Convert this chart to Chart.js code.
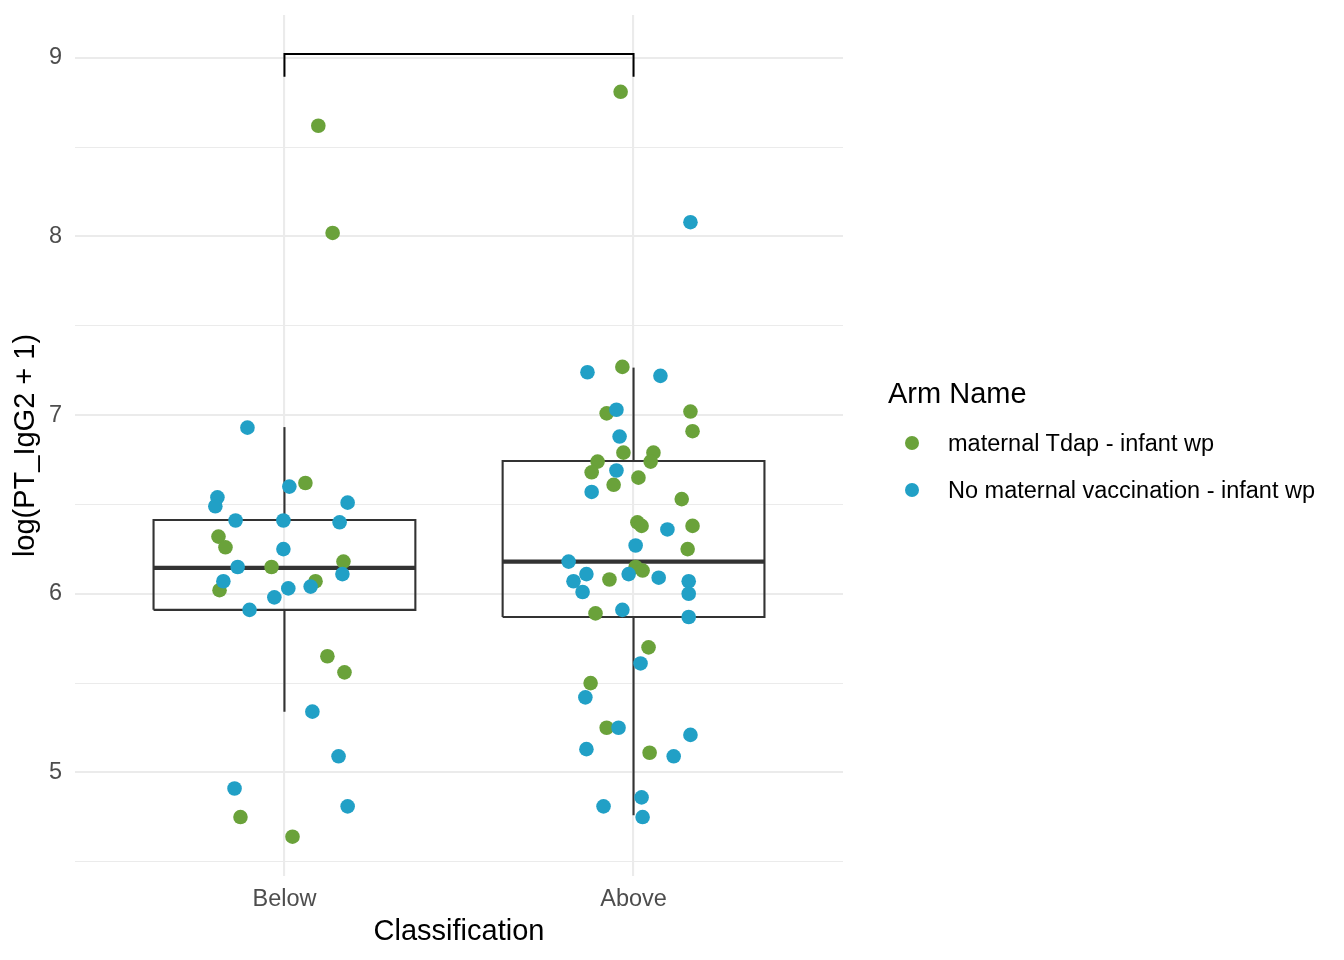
<!DOCTYPE html>
<html><head><meta charset="utf-8">
<script src="https://cdn.jsdelivr.net/npm/chart.js@4.4.1/dist/chart.umd.min.js"></script>
<style>
html,body{margin:0;padding:0;background:#fff;}
#wrap{position:relative;width:1344px;height:960px;font-family:'Liberation Sans',Arial,Helvetica,sans-serif;}
canvas{position:absolute;left:0;top:0;}
.lg-title{position:absolute;left:888px;top:376px;font-size:29px;color:#000;line-height:34px;white-space:nowrap;}
.lg-item{position:absolute;left:948px;font-size:23.5px;line-height:28px;color:#000;white-space:nowrap;}
.lg-dot{position:absolute;width:14.6px;height:14.6px;border-radius:50%;}
</style></head>
<body>
<div id="wrap">
<canvas id="c" width="1344" height="960"></canvas>
<div class="lg-title">Arm Name</div>
<div class="lg-dot" style="left:904.7px;top:435.7px;background:#6aa23a"></div>
<div class="lg-item" style="top:429px">maternal Tdap - infant wp</div>
<div class="lg-dot" style="left:904.7px;top:482.7px;background:#21a0c6"></div>
<div class="lg-item" style="top:476px">No maternal vaccination - infant wp</div>
</div>
<script>
// ---- data ----
const categories = ['Below', 'Above'];
const seriesNames = ['maternal Tdap - infant wp', 'No maternal vaccination - infant wp'];
const yTickValues = [4.5, 5, 5.5, 6, 6.5, 7, 7.5, 8, 8.5, 9];

// box statistics per category
const boxLower  = [5.34, 4.76];
const boxQ1     = [5.91, 5.87];
const boxMedian = [6.145, 6.18];
const boxQ3     = [6.413, 6.743];
const boxUpper  = [6.933, 7.266];

// significance bracket
const bracketTop = 9.022;
const bracketLeg = 8.894;

// jittered points: horizontal jitter (category units) and values
const belowTdapJitter = [0.097,0.138,0.060,-0.189,-0.169,-0.037,0.169,-0.186,0.089,0.123,0.172,-0.126,0.023];
const belowTdapValue  = [8.62,8.02,6.62,6.32,6.26,6.15,6.18,6.02,6.07,5.65,5.56,4.75,4.64];
const belowNoneJitter = [-0.106,0.014,-0.192,-0.198,0.181,-0.140,-0.003,0.158,-0.003,-0.134,0.166,-0.175,0.075,0.011,-0.029,-0.100,0.080,0.155,-0.143,0.181];
const belowNoneValue  = [6.93,6.60,6.54,6.49,6.51,6.41,6.41,6.40,6.25,6.15,6.11,6.07,6.04,6.03,5.98,5.91,5.34,5.09,4.91,4.81];
const aboveTdapJitter = [-0.037,-0.032,-0.077,0.163,0.169,-0.029,0.057,-0.103,0.049,-0.120,0.014,-0.057,0.138,0.011,0.023,0.169,0.155,0.006,0.026,-0.069,-0.109,0.043,-0.123,-0.077,0.046];
const aboveTdapValue  = [8.81,7.27,7.01,7.02,6.91,6.79,6.79,6.74,6.74,6.68,6.65,6.61,6.53,6.40,6.38,6.38,6.25,6.15,6.13,6.08,5.89,5.70,5.50,5.25,5.11];
const aboveNoneJitter = [0.163,-0.132,0.077,-0.049,-0.040,-0.049,-0.120,0.097,0.006,-0.186,-0.135,-0.014,0.072,-0.172,0.158,-0.146,0.158,-0.032,0.158,0.020,-0.138,-0.043,0.163,-0.135,0.115,0.023,-0.086,0.026];
const aboveNoneValue  = [8.08,7.24,7.22,7.03,6.88,6.69,6.57,6.36,6.27,6.18,6.11,6.11,6.09,6.07,6.07,6.01,6.00,5.91,5.87,5.61,5.42,5.25,5.21,5.13,5.09,4.86,4.81,4.75];

// ---- styling ----
const GREEN = '#6aa23a', BLUE = '#21a0c6', BOXC = '#333333';
const BOX_HALF = 0.375;
const FONT = "'Liberation Sans', Arial, Helvetica, sans-serif";

function pts(cat, jit, val) { return val.map((v, i) => ({ x: cat + jit[i], y: v })); }
function lineDs(data, width, color, order) {
  return { type: 'scatter', data, showLine: true, borderColor: color, borderWidth: width,
    pointRadius: 0, pointHoverRadius: 0, tension: 0, fill: false, order,
    borderJoinStyle: 'miter', borderCapStyle: 'butt' };
}

const datasets = [];
categories.forEach((c, i) => {
  const cx = i + 1;
  datasets.push(lineDs([{x: cx, y: boxQ3[i]}, {x: cx, y: boxUpper[i]}], 2.1, BOXC, 3));
  datasets.push(lineDs([{x: cx, y: boxQ1[i]}, {x: cx, y: boxLower[i]}], 2.1, BOXC, 3));
  datasets.push(lineDs([
    {x: cx - BOX_HALF, y: boxQ1[i]}, {x: cx - BOX_HALF, y: boxQ3[i]},
    {x: cx + BOX_HALF, y: boxQ3[i]}, {x: cx + BOX_HALF, y: boxQ1[i]},
    {x: cx - BOX_HALF, y: boxQ1[i]}], 2.1, BOXC, 3));
  datasets.push(lineDs([{x: cx - BOX_HALF, y: boxMedian[i]}, {x: cx + BOX_HALF, y: boxMedian[i]}], 4.3, BOXC, 3));
});
datasets.push(lineDs([{x: 1, y: bracketLeg}, {x: 1, y: bracketTop}, {x: 2, y: bracketTop}, {x: 2, y: bracketLeg}], 2, '#000', 3));

function pointDs(label, data, color, order) {
  return { type: 'scatter', label, data, backgroundColor: color, borderWidth: 0,
    pointRadius: 7.3, pointHoverRadius: 7.3, order };
}
datasets.push(pointDs(seriesNames[0], pts(1, belowTdapJitter, belowTdapValue).concat(pts(2, aboveTdapJitter, aboveTdapValue)), GREEN, 1));
datasets.push(pointDs(seriesNames[1], pts(1, belowNoneJitter, belowNoneValue).concat(pts(2, aboveNoneJitter, aboveNoneValue)), BLUE, 0));

new Chart(document.getElementById('c'), {
  type: 'scatter',
  data: { datasets },
  options: {
    responsive: false,
    animation: false,
    devicePixelRatio: 1,
    layout: { padding: { left: 0, right: 501, top: 15, bottom: 0 } },
    plugins: { legend: { display: false }, tooltip: { enabled: false } },
    scales: {
      x: {
        type: 'linear', min: 0.4, max: 2.6,
        afterBuildTicks: s => { s.ticks = [1, 2].map(v => ({ value: v })); },
        afterFit: s => { s.height = 84; s.paddingLeft = 0; s.paddingRight = 0; },
        ticks: { autoSkip: false, padding: 9, color: '#4d4d4d',
          font: { family: FONT, size: 23.5 },
          callback: v => categories[v - 1] },
        grid: { color: '#ebebeb', lineWidth: 2.1, drawTicks: false },
        border: { display: false },
        title: { display: true, text: 'Classification', color: '#000',
          font: { family: FONT, size: 29 }, padding: { top: 0, bottom: 11 } }
      },
      y: {
        type: 'linear', min: 4.42, max: 9.24,
        afterBuildTicks: s => { s.ticks = yTickValues.map(v => ({ value: v })); },
        afterFit: s => { s.width = 75; s.paddingTop = 0; s.paddingBottom = 0; },
        ticks: { autoSkip: false, padding: 13, color: '#4d4d4d',
          font: { family: FONT, size: 23.5 },
          callback: v => (Number.isInteger(v) ? String(v) : '') },
        grid: { color: '#ebebeb', drawTicks: false,
          lineWidth: ctx => (ctx.tick && Number.isInteger(ctx.tick.value) ? 2.1 : 1.05) },
        border: { display: false },
        title: { display: true, text: 'log(PT_IgG2 + 1)', color: '#000',
          font: { family: FONT, size: 29 }, padding: { top: 9, bottom: 0 } }
      }
    }
  }
});
</script>
</body></html>
